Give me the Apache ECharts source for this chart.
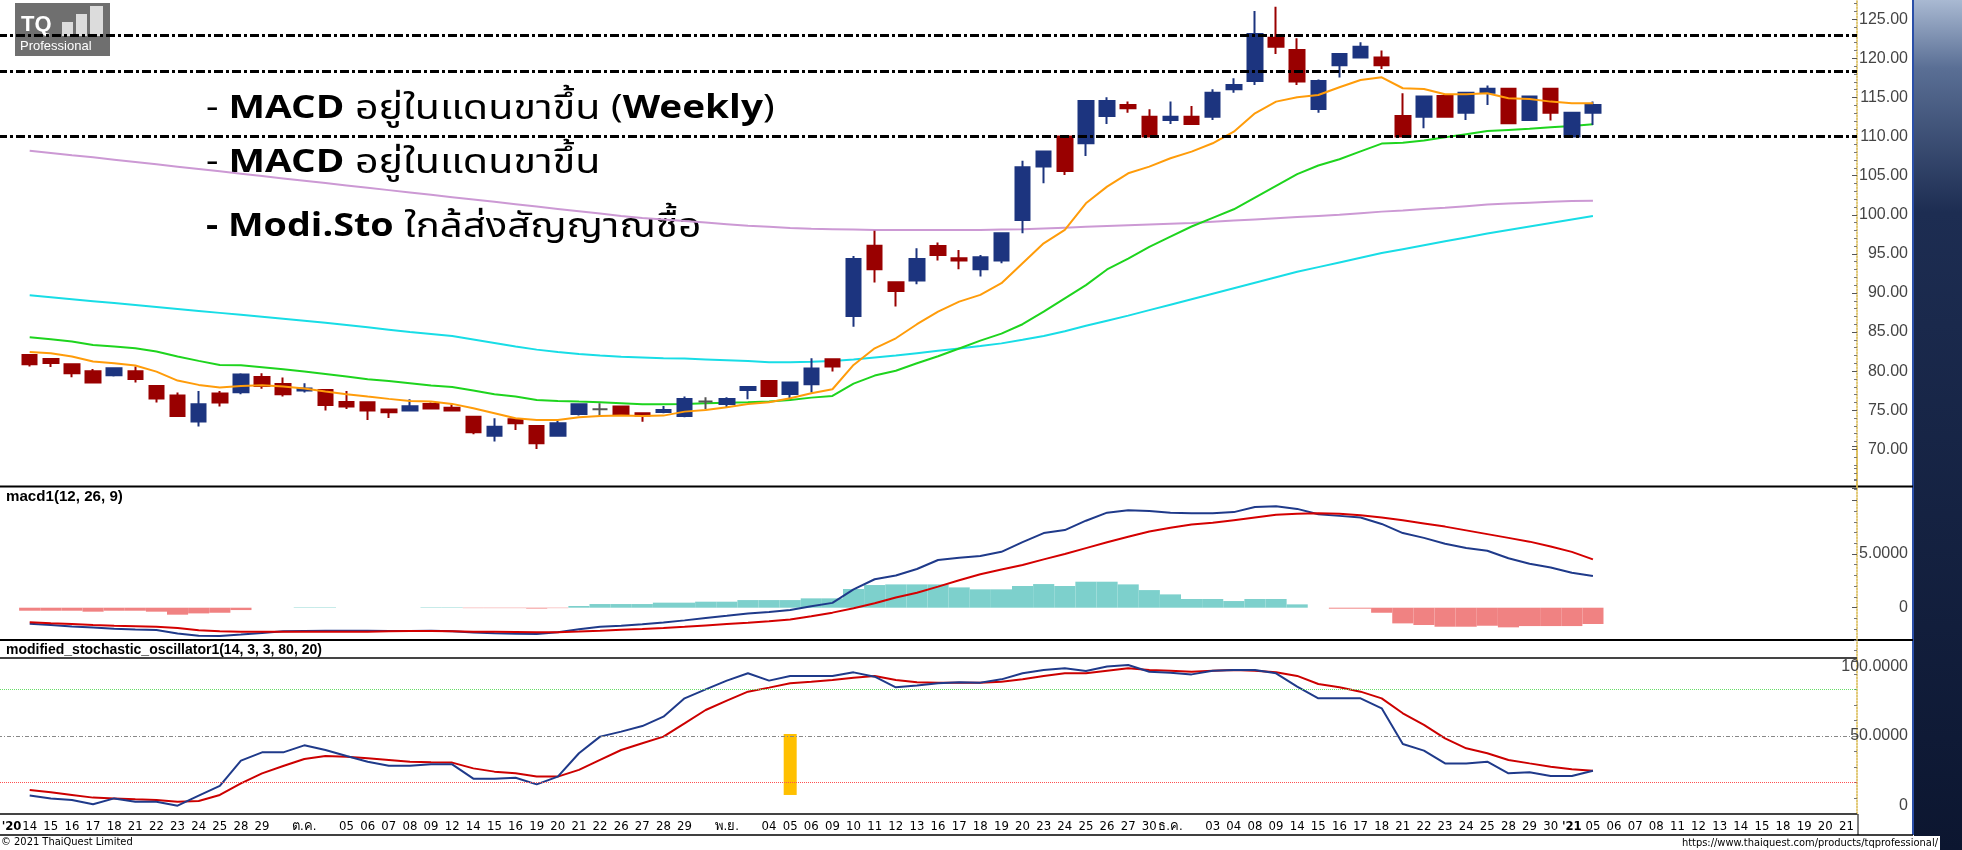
<!DOCTYPE html>
<html>
<head>
<meta charset="utf-8">
<title>TQ Professional chart</title>
<script src="https://cdn.jsdelivr.net/npm/echarts@6/dist/echarts.min.js"></script>
<style>
  html, body { margin: 0; padding: 0; background: #fff; }
  #chart { width: 1962px; height: 850px; }
</style>
</head>
<body>
<div id="chart"></div>
<script>
// วันที่บนแกน x (ช่องว่าง = วันที่ไม่มีป้าย)
var dayLabels = ["'20","14","15","16","17","18","21","22","23","24","25","28","29","","ต.ค.","","05","06","07","08","09","12","14","15","16","19","20","21","22","26","27","28","29","","พ.ย.","","04","05","06","09","10","11","12","13","16","17","18","19","20","23","24","25","26","27","30","ธ.ค.","","03","04","08","09","14","15","16","17","18","21","22","23","24","25","28","29","30","'21","05","06","07","08","11","12","13","14","15","18","19","20","21"];

// ราคา (เริ่มที่ช่องที่ 2)
var candleOpen  = [82.07,81.56,80.88,79.98,79.47,79.98,78.11,76.87,73.55,77.13,77.3,79.26,78.36,77.51,77.6,76.06,76.02,75.08,74.95,75.81,75.3,74.18,71.75,73.84,72.99,71.75,74.52,75.12,75.46,74.61,74.78,74.27,76.1,75.8,77.59,78.74,77.08,78.32,81.52,87.06,96.05,91.36,91.58,96.01,94.43,93.03,94.14,99.34,106.16,110.0,109.14,112.64,114.04,112.55,112.13,112.55,112.55,116.05,117.11,122.65,121.08,113.53,119.12,120.1,120.1,112.64,112.55,115.19,113.06,115.62,116.13,112.13,116.13,110.0,113.06];
var candleClose = [80.88,81.05,79.73,78.54,80.37,79.0,76.49,74.27,75.76,75.98,79.56,78.11,77.04,77.77,75.68,75.47,74.95,74.74,75.51,75.21,74.95,72.18,72.9,73.33,70.77,73.33,75.76,75.12,74.48,74.31,75.04,76.44,76.1,76.44,77.98,76.83,78.53,80.32,80.58,94.35,93.02,90.25,94.35,94.86,94.14,94.56,97.63,106.07,108.08,105.6,114.55,114.55,113.62,110.0,112.55,111.61,115.62,116.6,123.12,121.5,117.03,117.11,120.56,121.5,119.12,110.0,115.11,112.55,115.62,116.13,111.7,115.11,113.06,113.06,114.04];
var candleLow   = [80.58,80.54,79.22,78.54,79.3,78.54,75.98,74.27,72.91,75.47,77.04,77.73,76.74,77.26,74.95,75.17,73.76,74.02,74.9,75.15,74.9,71.92,70.99,72.48,70.05,71.7,74.31,74.27,74.4,73.54,74.61,74.1,75.12,75.38,76.4,76.8,76.4,77.25,79.94,85.69,91.32,88.25,91.11,94.14,93.03,92.09,93.8,97.63,104.03,105.09,107.52,111.61,113.06,110.0,111.61,111.6,112.13,115.62,116.6,120.56,116.6,113.06,117.54,120.0,118.65,110.0,111.06,112.5,112.13,114.04,111.7,112.1,112.04,110.0,111.49];
var candleHigh  = [82.07,81.56,80.9,80.28,80.5,80.58,78.2,77.26,77.47,77.47,79.73,79.73,79.17,78.45,77.68,77.47,76.1,75.21,76.4,75.98,75.76,74.25,73.97,73.9,73.0,73.67,75.89,75.89,75.59,74.7,75.55,76.74,76.66,76.66,78.0,78.87,78.6,81.64,81.64,94.73,97.97,91.4,95.71,96.44,95.5,94.86,97.7,106.92,108.1,110.0,114.6,115.02,114.47,113.49,114.47,113.91,116.05,117.45,126.06,126.62,122.57,117.3,120.6,122.06,121.0,115.54,115.2,115.45,115.7,116.52,116.2,115.2,116.2,113.1,114.47];

// เส้นค่าเฉลี่ย
var maOrange = [82.46,82.29,81.86,81.22,81.0,80.71,79.94,78.79,78.24,77.9,78.11,78.2,78.03,77.77,77.38,77.04,76.74,76.45,76.19,76.1,75.81,75.25,74.61,73.97,73.76,73.76,74.1,74.27,74.31,74.27,74.31,74.82,75.04,75.38,75.8,76.02,76.53,77.17,77.68,80.79,82.92,84.2,86.0,87.62,88.89,89.75,91.24,93.8,96.35,98.06,101.47,103.6,105.3,106.16,107.22,108.08,109.14,110.63,112.98,114.47,115.02,115.32,116.3,117.24,117.58,116.18,116.09,115.41,115.41,115.54,114.9,114.81,114.47,114.26,114.26];
var maGreen  = [84.33,84.08,83.78,83.35,83.14,82.93,82.5,81.86,81.31,80.79,80.75,80.5,80.24,79.94,79.64,79.3,78.96,78.75,78.45,78.15,77.98,77.51,77.04,76.74,76.32,76.19,76.1,76.02,75.89,75.76,75.76,75.8,75.89,75.97,76.02,76.1,76.32,76.61,76.83,78.4,79.43,80.05,81.0,81.9,82.9,83.9,84.8,86.0,87.6,89.3,91.0,93.0,94.4,95.9,97.2,98.5,99.6,100.7,102.2,103.7,105.2,106.3,107.1,108.1,109.1,109.2,109.5,109.9,110.3,110.7,110.85,111.0,111.2,111.35,111.57];
var maCyan   = [89.7,89.45,89.2,88.95,88.7,88.45,88.2,87.95,87.7,87.45,87.2,86.95,86.7,86.45,86.2,85.9,85.6,85.3,85.0,84.75,84.5,84.05,83.6,83.15,82.75,82.45,82.2,82.0,81.85,81.75,81.65,81.6,81.5,81.4,81.3,81.15,81.12,81.2,81.3,81.5,81.75,82.0,82.3,82.6,82.9,83.2,83.55,84.0,84.5,85.1,85.8,86.45,87.1,87.8,88.5,89.2,89.9,90.6,91.3,92.0,92.7,93.3,93.9,94.5,95.1,95.6,96.1,96.6,97.1,97.6,98.05,98.5,98.95,99.4,99.85];
var maViolet = [108.2,107.9,107.6,107.35,107.05,106.75,106.45,106.15,105.85,105.55,105.25,104.95,104.65,104.35,104.05,103.75,103.45,103.15,102.85,102.55,102.25,101.95,101.65,101.35,101.05,100.75,100.45,100.15,99.85,99.6,99.4,99.2,99.0,98.8,98.6,98.45,98.3,98.2,98.15,98.1,98.05,98.05,98.05,98.05,98.05,98.05,98.1,98.15,98.25,98.35,98.45,98.55,98.65,98.75,98.85,98.95,99.1,99.25,99.4,99.55,99.7,99.85,100.0,100.2,100.4,100.55,100.75,100.9,101.1,101.3,101.45,101.55,101.65,101.75,101.8];

// เส้นแนวรับ/แนวต้าน
var priceLevels = [123.0, 118.4, 110.0];

// MACD
var macdLine   = [-1.5,-1.62,-1.75,-1.85,-1.95,-2.02,-2.08,-2.4,-2.62,-2.64,-2.5,-2.35,-2.2,-2.17,-2.15,-2.14,-2.15,-2.16,-2.17,-2.14,-2.2,-2.32,-2.38,-2.42,-2.45,-2.28,-2.0,-1.77,-1.68,-1.55,-1.38,-1.18,-0.97,-0.76,-0.54,-0.4,-0.22,0.14,0.45,1.7,2.65,3.0,3.6,4.44,4.65,4.81,5.2,6.1,6.95,7.23,8.1,8.85,9.08,9.0,8.85,8.8,8.8,8.9,9.38,9.45,9.2,8.7,8.55,8.4,7.8,6.95,6.5,5.95,5.55,5.3,4.6,4.1,3.75,3.25,2.95];
var signalLine = [-1.36,-1.45,-1.52,-1.6,-1.67,-1.72,-1.77,-1.9,-2.1,-2.2,-2.23,-2.23,-2.23,-2.23,-2.23,-2.23,-2.23,-2.2,-2.18,-2.17,-2.2,-2.23,-2.25,-2.27,-2.29,-2.29,-2.22,-2.14,-2.05,-1.98,-1.9,-1.78,-1.65,-1.52,-1.4,-1.27,-1.1,-0.8,-0.46,-0.06,0.41,0.95,1.4,1.96,2.55,3.11,3.55,3.98,4.5,5.0,5.55,6.1,6.6,7.1,7.45,7.75,7.9,8.15,8.4,8.65,8.75,8.79,8.75,8.6,8.4,8.15,7.85,7.55,7.2,6.85,6.5,6.15,5.7,5.2,4.5];
var macdHist   = [-0.28,-0.28,-0.28,-0.37,-0.28,-0.28,-0.37,-0.65,-0.53,-0.47,-0.22,0,0,0.04,0.04,0,0,0,0,0.04,0.04,-0.04,-0.04,-0.04,-0.08,-0.04,0.16,0.34,0.34,0.34,0.47,0.47,0.56,0.56,0.71,0.71,0.71,0.87,0.87,1.74,2.11,2.17,2.17,2.17,1.89,1.71,1.71,2.02,2.2,2.02,2.42,2.42,2.17,1.64,1.24,0.81,0.81,0.62,0.81,0.81,0.31,0,-0.09,-0.09,-0.47,-1.46,-1.61,-1.77,-1.77,-1.68,-1.83,-1.71,-1.71,-1.71,-1.52];

// Modified stochastic
var stochK = [11.7,9.9,8.9,6.1,9.9,7.8,7.8,5.2,11.7,17.9,34.2,39.5,39.5,44.0,41.0,37.2,33.5,30.9,30.9,31.8,31.8,22.6,22.6,23.2,18.9,23.9,38.9,49.6,52.8,56.4,62.4,74.2,80.0,85.6,90.3,85.6,88.6,88.6,88.6,90.9,88.1,81.3,82.4,83.9,84.5,84.3,86.4,90.3,92.4,93.5,91.8,94.6,95.6,91.3,90.7,89.6,92.0,92.4,92.4,90.3,81.7,74.2,74.2,74.2,67.8,44.9,40.6,32.4,32.4,33.5,26.0,26.7,24.3,24.3,27.7];
var stochD = [15.3,13.8,12.1,10.4,9.9,9.3,8.9,7.8,8.2,12.1,19.6,26.0,30.7,35.2,37.2,36.7,35.7,34.6,33.5,33.1,32.9,29.2,27.1,26.0,23.9,23.9,28.2,34.6,41.0,45.3,49.6,58.1,66.7,72.7,78.5,81.1,83.9,84.9,86.0,87.5,88.6,86.0,84.5,84.3,84.3,84.3,84.9,86.4,88.6,90.3,90.3,92.0,93.5,92.4,92.0,91.3,92.0,92.4,92.0,90.9,88.6,83.4,81.3,78.5,74.2,64.6,57.1,48.5,42.1,38.9,34.6,32.4,30.3,28.6,27.7];
var stochLevels = [80, 50, 20];
// แท่งสัญญาณสีเหลือง: ช่องที่ และช่วงค่า
var signalSlot = 37;
var signalRange = [12.1, 51.3];

var N = dayLabels.length;
var first = 1;
function pad(a) {
  var out = [];
  for (var i = 0; i < N; i++) {
    var j = i - first;
    out.push(j >= 0 && j < a.length ? a[j] : '-');
  }
  return out;
}

var candles = [];
for (var i = 0; i < N; i++) {
  var j = i - first;
  if (j < 0 || j >= candleOpen.length) { candles.push(['-', '-', '-', '-']); continue; }
  var o = candleOpen[j], c = candleClose[j];
  var item = { value: [o, c, candleLow[j], candleHigh[j]] };
  if (o === c) item.itemStyle = { color: '#555', color0: '#555', borderColor: '#555', borderColor0: '#555' };
  candles.push(item);
}

var sigBase = [], sigBar = [];
for (var i = 0; i < N; i++) {
  sigBase.push(i === signalSlot ? signalRange[0] : '-');
  sigBar.push(i === signalSlot ? signalRange[1] - signalRange[0] : '-');
}

var narrow = "'Liberation Sans Narrow', 'DejaVu Sans Condensed', 'Liberation Sans', sans-serif";
var sans = "'Liberation Sans', Arial, sans-serif";
var thai = "'Noto Sans Thai', 'Leelawadee UI', 'Tahoma', 'Noto Sans', sans-serif";

var gridLeft = -2, gridWidth = 1859;
var cats = dayLabels.map(function (d, i) { return String(i); });

function xAxisFor(g) {
  return {
    type: 'category', gridIndex: g, data: cats, boundaryGap: true,
    axisLine: { show: g === 2, lineStyle: { color: '#000', width: 1 } },
    axisTick: { show: false },
    splitLine: { show: false },
    axisLabel: {
      show: g === 2, interval: 0, margin: 6, fontSize: 13, color: '#000', fontFamily: narrow,
      formatter: function (v) {
        var s = dayLabels[+v];
        if (+v === 0) return '{f|' + s + '}';
        return s.charAt(0) === "'" ? '{b|' + s + '}' : s;
      },
      rich: {
        b: { fontWeight: 'bold', fontSize: 13, fontFamily: narrow, color: '#000' },
        f: { fontWeight: 'bold', fontSize: 13, fontFamily: narrow, color: '#000', padding: [0, 0, 0, 6] }
      }
    }
  };
}

function rightAxis(g, min, max, interval, fmt) {
  return {
    type: 'value', gridIndex: g, position: 'right', min: min, max: max, interval: interval,
    axisLine: { show: true, lineStyle: { color: '#d9b84a', type: 'dotted', width: 1.5 } },
    axisTick: { show: true, inside: true, length: 5, lineStyle: { color: '#555' } },
    minorTick: { show: true, splitNumber: 5, length: 3, lineStyle: { color: '#777' } },
    splitLine: { show: false },
    axisLabel: { formatter: fmt, align: 'right', margin: 51, fontSize: 16, color: '#444', fontFamily: sans }
  };
}

var chart = echarts.init(document.getElementById('chart'));

var stochAxis = rightAxis(2, 0, 100, 50, function (v) { return v === 0 ? '0' : v.toFixed(4); });
stochAxis.axisLabel.verticalAlignMaxLabel = 'top';
stochAxis.axisLabel.verticalAlignMinLabel = 'bottom';

function noteStyle(text) {
  return {
    text: text, verticalAlign: 'middle',
    rich: {
      n: { fontSize: 32, fontFamily: thai, fill: '#000' },
      t: { fontSize: 34, fontFamily: thai, fill: '#000' },
      b: { fontSize: 32, fontWeight: 'bold', fontFamily: thai, fill: '#000' }
    }
  };
}

var option = {
  animation: false,
  backgroundColor: '#fff',
  grid: [
    { left: gridLeft, width: gridWidth, top: -19.8, height: 508.2, outerBoundsMode: 'none', containLabel: false },
    { left: gridLeft, width: gridWidth, top: 446.6, height: 214.8, outerBoundsMode: 'none', containLabel: false },
    { left: gridLeft, width: gridWidth, top: 658.2, height: 155.6, outerBoundsMode: 'none', containLabel: false }
  ],
  xAxis: [xAxisFor(0), xAxisFor(1), xAxisFor(2)],
  yAxis: [
    rightAxis(0, 65, 130, 5, function (v) { return (v < 70 || v > 125) ? '' : v.toFixed(2); }),
    rightAxis(1, -5, 15, 5, function (v) { return v === 5 ? '5.0000' : (v === 0 ? '0' : ''); }),
    stochAxis
  ],
  series: [
    {
      type: 'line', name: 'violet', xAxisIndex: 0, yAxisIndex: 0, data: pad(maViolet),
      symbol: 'none', lineStyle: { color: '#cc99d4', width: 2 }, z: 2
    },
    {
      type: 'line', name: 'cyan', xAxisIndex: 0, yAxisIndex: 0, data: pad(maCyan),
      symbol: 'none', lineStyle: { color: '#18dde6', width: 2 }, z: 2
    },
    {
      type: 'line', name: 'green', xAxisIndex: 0, yAxisIndex: 0, data: pad(maGreen),
      symbol: 'none', lineStyle: { color: '#1ed41e', width: 2 }, z: 2
    },
    {
      type: 'candlestick', name: 'price', xAxisIndex: 0, yAxisIndex: 0, data: candles,
      barWidth: 15, z: 3,
      itemStyle: { color: '#1c347f', color0: '#990000', borderColor: '#1c347f', borderColor0: '#990000', borderWidth: 2 },
      markLine: {
        symbol: 'none', silent: true, label: { show: false },
        lineStyle: { color: '#000', width: 3, type: [9, 3, 3, 3] },
        data: priceLevels.map(function (v) { return { yAxis: v }; })
      }
    },
    {
      type: 'line', name: 'orange', xAxisIndex: 0, yAxisIndex: 0, data: pad(maOrange),
      symbol: 'none', lineStyle: { color: '#ff9c0a', width: 2 }, z: 4
    },
    {
      type: 'bar', name: 'hist', xAxisIndex: 1, yAxisIndex: 1, data: pad(macdHist),
      barCategoryGap: '0%', barWidth: '100%',
      itemStyle: { color: function (p) { return p.value >= 0 ? '#7dd0cc' : '#f08282'; } }
    },
    {
      type: 'line', name: 'macd', xAxisIndex: 1, yAxisIndex: 1, data: pad(macdLine),
      symbol: 'none', lineStyle: { color: '#1f3a8a', width: 2 }
    },
    {
      type: 'line', name: 'signal', xAxisIndex: 1, yAxisIndex: 1, data: pad(signalLine),
      symbol: 'none', lineStyle: { color: '#d40000', width: 2 }
    },
    {
      type: 'bar', name: 'sigbase', xAxisIndex: 2, yAxisIndex: 2, data: sigBase, stack: 'sig',
      barWidth: 13, itemStyle: { color: 'transparent' }, silent: true
    },
    {
      type: 'bar', name: 'sigbar', xAxisIndex: 2, yAxisIndex: 2, data: sigBar, stack: 'sig',
      barWidth: 13, itemStyle: { color: '#ffc000' }
    },
    {
      type: 'line', name: 'stochK', xAxisIndex: 2, yAxisIndex: 2, data: pad(stochK),
      symbol: 'none', lineStyle: { color: '#1f3a8a', width: 2 }, z: 4,
      markLine: {
        symbol: 'none', silent: true, label: { show: false },
        data: [
          { yAxis: 100, lineStyle: { color: '#444', width: 2, type: 'solid' } },
          { yAxis: 0, lineStyle: { color: '#444', width: 2, type: 'solid' } },
          { yAxis: stochLevels[0], lineStyle: { color: '#66dd66', width: 1, type: 'dotted' } },
          { yAxis: stochLevels[1], lineStyle: { color: '#888', width: 1, type: [4, 2, 1, 2] } },
          { yAxis: stochLevels[2], lineStyle: { color: '#ff5050', width: 1, type: 'dotted' } }
        ]
      }
    },
    {
      type: 'line', name: 'stochD', xAxisIndex: 2, yAxisIndex: 2, data: pad(stochD),
      symbol: 'none', lineStyle: { color: '#cc0000', width: 2 }, z: 3
    }
  ],
  graphic: [
    // แถบพื้นหลังด้านขวา
    {
      type: 'rect', shape: { x: 1914, y: 0, width: 48, height: 850 }, silent: true,
      style: { fill: new echarts.graphic.LinearGradient(0, 0, 0, 1, [
        { offset: 0, color: '#a9b9d2' }, { offset: 0.08, color: '#5a6f95' },
        { offset: 0.25, color: '#1d2d52' }, { offset: 1, color: '#0c1630' }]) }
    },
    { type: 'rect', shape: { x: 1914, y: 836, width: 26, height: 14 }, style: { fill: '#fff' } },
    { type: 'line', shape: { x1: 1913, y1: 0, x2: 1913, y2: 835 }, style: { stroke: '#2a4fa8', lineWidth: 2 } },
    // เส้นแบ่งแผง
    { type: 'line', shape: { x1: 0, y1: 486.5, x2: 1913, y2: 486.5 }, style: { stroke: '#000', lineWidth: 2 } },
    { type: 'line', shape: { x1: 0, y1: 640, x2: 1913, y2: 640 }, style: { stroke: '#000', lineWidth: 2 } },
    { type: 'line', shape: { x1: 0, y1: 835, x2: 1913, y2: 835 }, style: { stroke: '#000', lineWidth: 1.5 } },
    { type: 'line', shape: { x1: 1858, y1: 814, x2: 1858, y2: 835 }, style: { stroke: '#000', lineWidth: 1 } },
    // โลโก้
    { type: 'rect', shape: { x: 15, y: 3, width: 95, height: 53 }, style: { fill: '#6f6f6f' } },
    { type: 'text', x: 21, y: 14, style: { text: 'TQ', fill: '#fff', font: 'bold 22px ' + sans } },
    { type: 'rect', shape: { x: 62, y: 22, width: 11, height: 14 }, style: { fill: '#dcdcdc' } },
    { type: 'rect', shape: { x: 76, y: 14, width: 11, height: 22 }, style: { fill: '#dcdcdc' } },
    { type: 'rect', shape: { x: 90, y: 6, width: 13, height: 30 }, style: { fill: '#dcdcdc' } },
    { type: 'text', x: 20, y: 40, style: { text: 'Professional', fill: '#fff', font: '13px ' + sans } },
    // ข้อความบนกราฟ
    { type: 'text', x: 206, y: 112, scaleX: 1.21, style: noteStyle('{n|- }{b|MACD}{t| อยู่ในแดนขาขึ้น }{n|(}{b|Weekly}{n|)}') },
    { type: 'text', x: 206, y: 166, scaleX: 1.21, style: noteStyle('{n|- }{b|MACD}{t| อยู่ในแดนขาขึ้น}') },
    { type: 'text', x: 206, y: 230, scaleX: 1.18, style: noteStyle('{b|- Modi.Sto}{t| ใกล้ส่งสัญญาณซื้อ}') },
    // ชื่อแผง
    { type: 'text', x: 6, y: 490, scaleX: 1.08, style: { text: 'macd1(12, 26, 9)', fill: '#000', font: 'bold 14px ' + sans } },
    { type: 'text', x: 6, y: 643, style: { text: 'modified_stochastic_oscillator1(14, 3, 3, 80, 20)', fill: '#000', font: 'bold 14px ' + sans } },
    // ส่วนท้าย
    { type: 'text', x: 1, y: 837, style: { text: '© 2021 ThaiQuest Limited', fill: '#000', font: '11px ' + narrow } },
    { type: 'text', x: 1938, y: 838, style: { text: 'https://www.thaiquest.com/products/tqprofessional/', fill: '#000', font: '11px ' + narrow, align: 'right' } }
  ]
};

chart.setOption(option);
</script>
</body>
</html>
